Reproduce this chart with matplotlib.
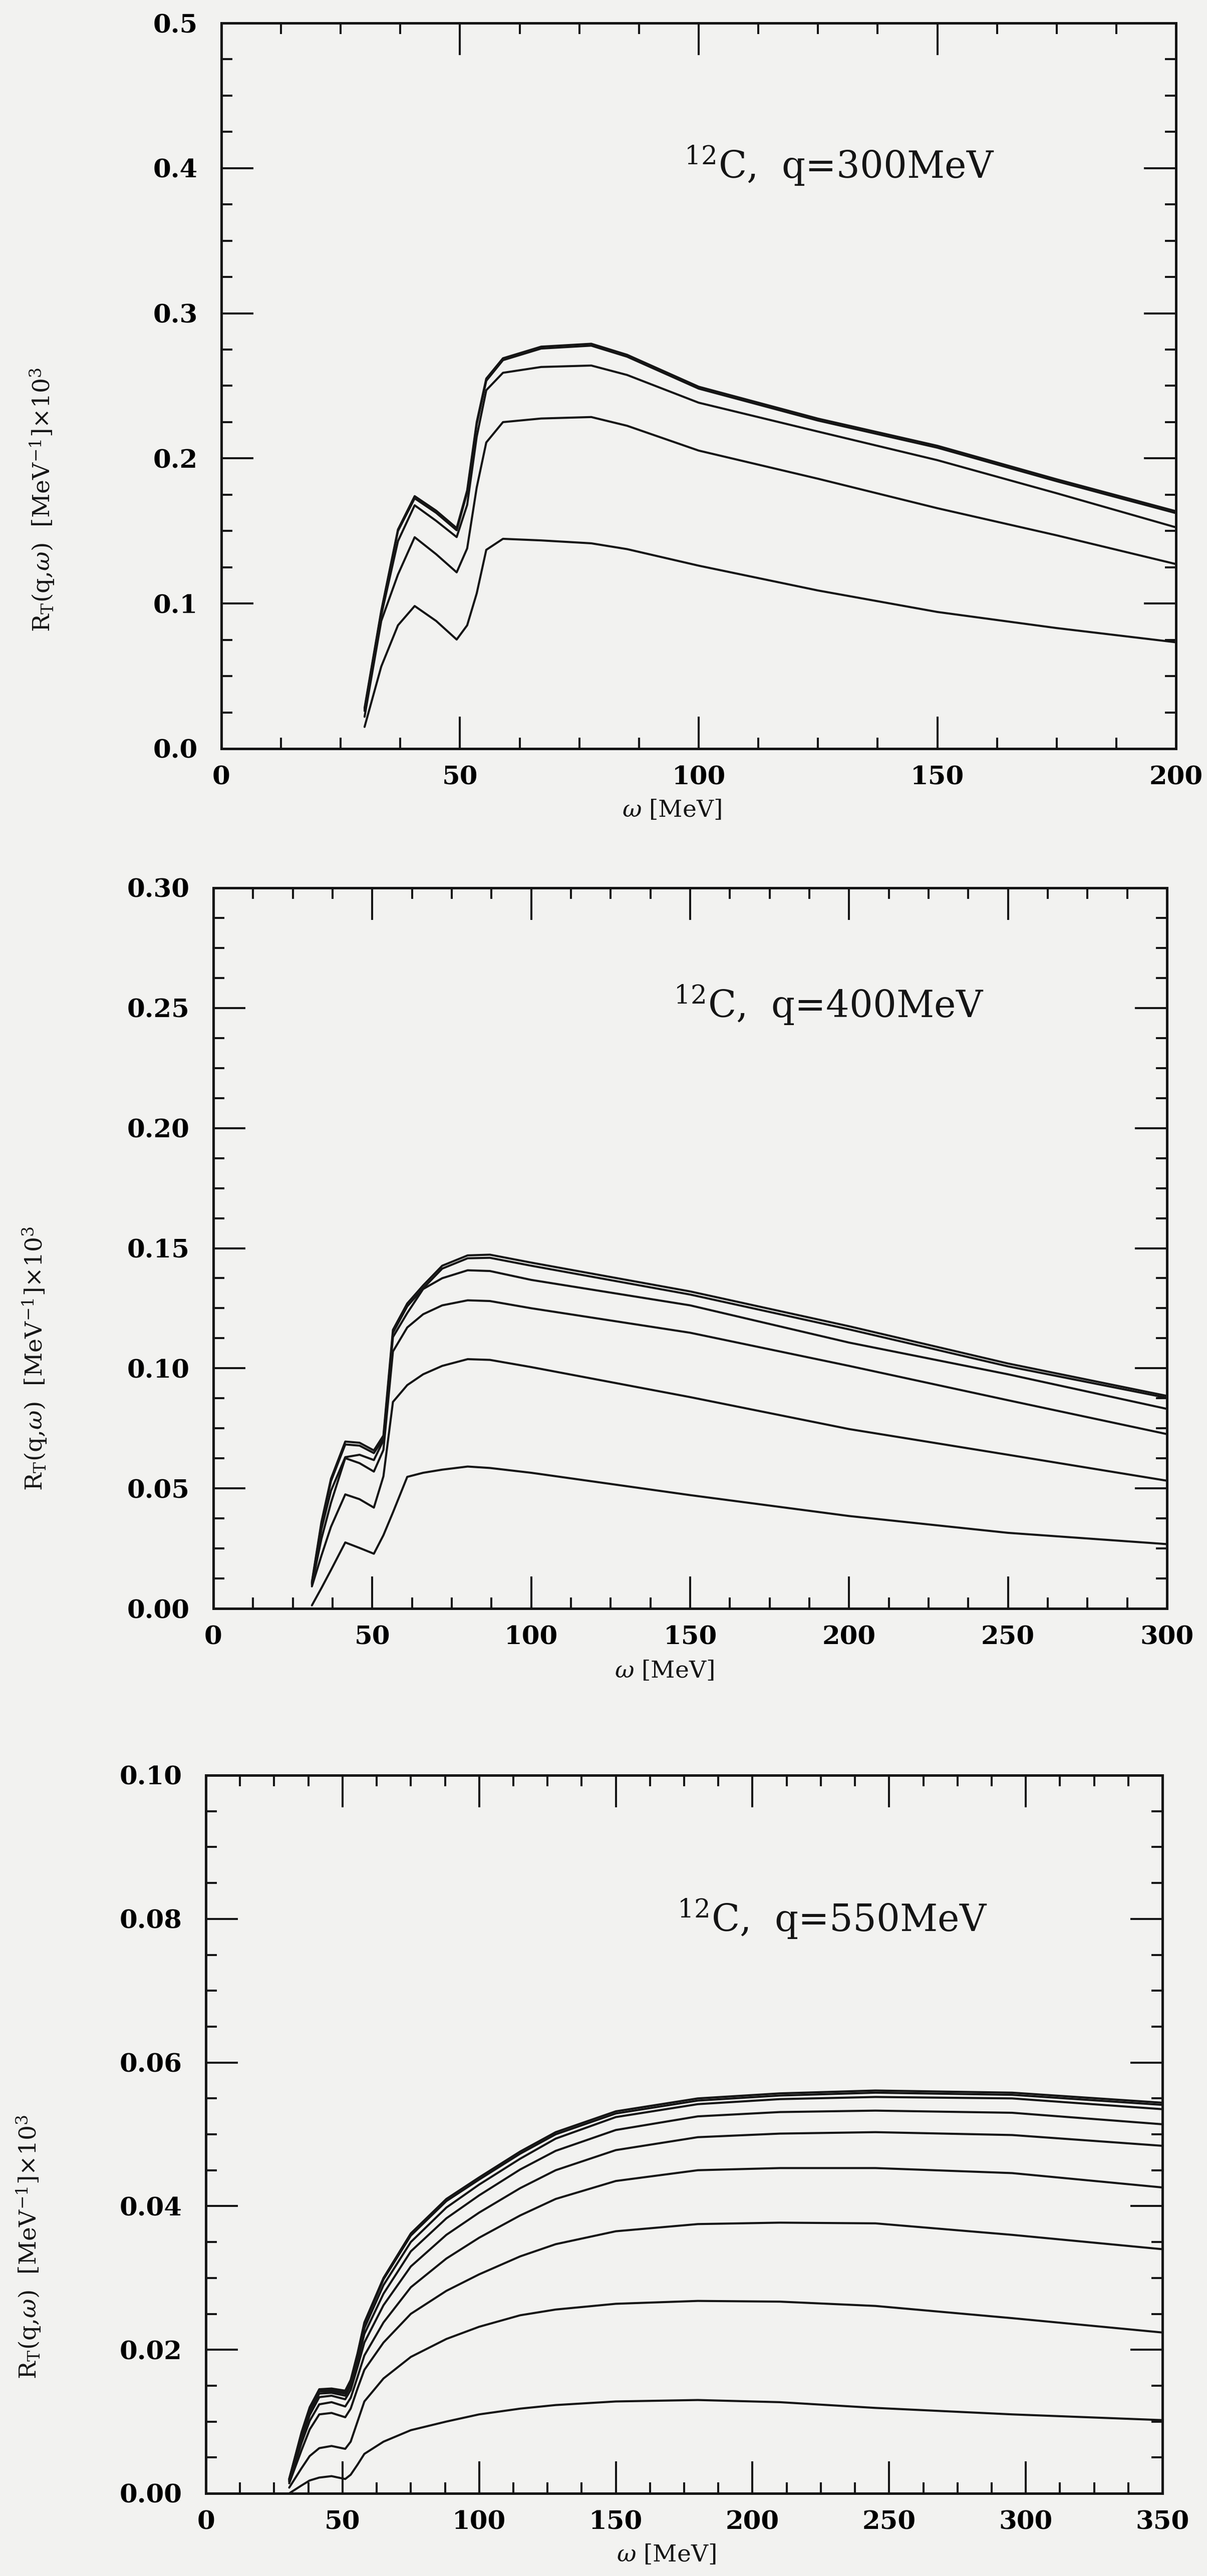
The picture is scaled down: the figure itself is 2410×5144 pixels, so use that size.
import matplotlib
matplotlib.use('Agg')
import matplotlib.pyplot as plt

plt.rcParams['font.family'] = 'DejaVu Serif'
plt.rcParams['mathtext.fontset'] = 'dejavuserif'

W, H = 2410, 5144
PAPER = '#f2f2f0'
INK = '#151515'

# transverse response of 12C, one curve per model, q = 300 MeV
q300_w = [30, 33.5, 37, 40.5, 45, 49.3, 51.5, 53.5, 55.5, 59, 67, 77.5, 85, 100, 125, 150, 175, 200]
q300_curves = [
    [0.028, 0.095, 0.151, 0.174, 0.164, 0.152, 0.178, 0.225, 0.255, 0.269, 0.277, 0.279, 0.2714, 0.2494, 0.2274, 0.2087, 0.1856, 0.1636],
    [0.027, 0.094, 0.150, 0.1725, 0.1625, 0.1505, 0.1765, 0.2235, 0.2535, 0.2677, 0.2757, 0.2777, 0.2701, 0.2481, 0.2261, 0.2074, 0.1843, 0.1623],
    [0.026, 0.092, 0.143, 0.1677, 0.157, 0.1458, 0.168, 0.215, 0.247, 0.259, 0.263, 0.2640, 0.2575, 0.2384, 0.2185, 0.1988, 0.1760, 0.1525],
    [0.022, 0.088, 0.120, 0.1457, 0.134, 0.1215, 0.138, 0.180, 0.211, 0.225, 0.2275, 0.2285, 0.2225, 0.2054, 0.1860, 0.1657, 0.1470, 0.1272],
    [0.015, 0.0566, 0.085, 0.0983, 0.088, 0.0752, 0.085, 0.107, 0.137, 0.1446, 0.1435, 0.1415, 0.1375, 0.1261, 0.1090, 0.0942, 0.0831, 0.0733],
]

# q = 400 MeV
q400_w = [31, 34, 37, 41.5, 46, 50.5, 53.5, 56.5, 61, 66, 72, 80, 87, 100, 150, 200, 250, 300]
q400_curves = [
    [0.011, 0.036, 0.054, 0.0695, 0.0690, 0.0658, 0.072, 0.116, 0.127, 0.1345, 0.1427, 0.1470, 0.1473, 0.1440, 0.1320, 0.1175, 0.1020, 0.0885],
    [0.0106, 0.0352, 0.0530, 0.0683, 0.0678, 0.0647, 0.0708, 0.1148, 0.1258, 0.1333, 0.1415, 0.1458, 0.1460, 0.1427, 0.1307, 0.1162, 0.1008, 0.0877],
    [0.0103, 0.033, 0.049, 0.063, 0.064, 0.0618, 0.070, 0.113, 0.123, 0.1330, 0.1375, 0.1408, 0.1405, 0.1368, 0.1262, 0.1107, 0.0975, 0.0831],
    [0.0099, 0.029, 0.044, 0.0626, 0.0605, 0.0570, 0.066, 0.107, 0.117, 0.1225, 0.1262, 0.1283, 0.1280, 0.1250, 0.1148, 0.1010, 0.0867, 0.0726],
    [0.0092, 0.022, 0.034, 0.0475, 0.0455, 0.0420, 0.055, 0.086, 0.093, 0.0975, 0.1010, 0.1038, 0.1035, 0.1005, 0.0880, 0.0747, 0.0640, 0.0532],
    [0.0013, 0.0085, 0.0160, 0.0275, 0.0252, 0.0228, 0.0305, 0.040, 0.0548, 0.0565, 0.0578, 0.0591, 0.0585, 0.0565, 0.0472, 0.0385, 0.0315, 0.0268],
]

# q = 550 MeV
q550_w = [30.5, 35, 38, 41.5, 46, 51, 53, 55.5, 58, 65, 75, 88, 100, 115, 128, 150, 180, 210, 245, 295, 350]
q550_curves = [
    [0.0020, 0.0085, 0.0120, 0.0145, 0.0146, 0.0143, 0.0158, 0.0195, 0.0238, 0.0300, 0.0362, 0.0410, 0.0440, 0.0476, 0.0503, 0.0532, 0.0550, 0.0557, 0.0561, 0.0558, 0.0544],
    [0.0020, 0.0083, 0.0118, 0.0143, 0.0144, 0.0141, 0.0156, 0.0193, 0.0236, 0.0298, 0.0359, 0.0407, 0.0437, 0.0473, 0.0500, 0.0529, 0.0547, 0.0554, 0.0558, 0.0555, 0.0541],
    [0.0019, 0.0082, 0.0117, 0.0142, 0.0142, 0.0139, 0.0154, 0.0190, 0.0230, 0.0290, 0.0350, 0.0398, 0.0430, 0.0466, 0.0494, 0.0524, 0.0542, 0.0549, 0.0552, 0.0550, 0.0535],
    [0.0018, 0.0080, 0.0114, 0.0139, 0.0140, 0.0136, 0.0150, 0.0184, 0.0222, 0.0278, 0.0337, 0.0383, 0.0415, 0.0451, 0.0477, 0.0506, 0.0525, 0.0531, 0.0533, 0.0530, 0.0514],
    [0.0017, 0.0076, 0.0109, 0.0134, 0.0136, 0.0131, 0.0144, 0.0176, 0.0210, 0.0262, 0.0316, 0.0360, 0.0391, 0.0425, 0.0450, 0.0478, 0.0496, 0.0501, 0.0503, 0.0499, 0.0484],
    [0.0016, 0.0070, 0.0101, 0.0124, 0.0127, 0.0121, 0.0133, 0.0162, 0.0192, 0.0238, 0.0287, 0.0327, 0.0356, 0.0387, 0.0410, 0.0435, 0.0450, 0.0453, 0.0453, 0.0446, 0.0426],
    [0.0014, 0.0060, 0.0089, 0.0110, 0.0112, 0.0106, 0.0118, 0.0146, 0.0172, 0.0210, 0.0250, 0.0282, 0.0305, 0.0330, 0.0347, 0.0365, 0.0375, 0.0377, 0.0376, 0.0360, 0.0340],
    [0.0008, 0.0035, 0.0052, 0.0063, 0.0066, 0.0062, 0.0072, 0.0100, 0.0128, 0.0160, 0.0190, 0.0215, 0.0232, 0.0248, 0.0256, 0.0264, 0.0268, 0.0267, 0.0261, 0.0244, 0.0224],
    [0.0000, 0.0011, 0.0018, 0.0022, 0.0024, 0.0020, 0.0026, 0.0040, 0.0055, 0.0072, 0.0088, 0.0100, 0.0110, 0.0118, 0.0123, 0.0128, 0.0130, 0.0127, 0.0119, 0.0110, 0.0102],
]

q_values = [300, 400, 550]
x_limits = [200, 300, 350]
y_limits = [0.5, 0.30, 0.10]
y_major = [0.1, 0.05, 0.02]
y_minor = [0.025, 0.0125, 0.005]
x_tick_labels = [
    ['0', '50', '100', '150', '200'],
    ['0', '50', '100', '150', '200', '250', '300'],
    ['0', '50', '100', '150', '200', '250', '300', '350'],
]
y_tick_labels = [
    ['0.0', '0.1', '0.2', '0.3', '0.4', '0.5'],
    ['0.00', '0.05', '0.10', '0.15', '0.20', '0.25', '0.30'],
    ['0.00', '0.02', '0.04', '0.06', '0.08', '0.10'],
]

# axes boxes in pixels: left, right, top, bottom
boxes = [(442, 2348, 46, 1495), (426, 2330, 1773, 3212), (411, 2321, 3545, 4979)]
# where the text pieces sit (pixel centres / left edge of the annotation)
ylabel_pos = [(85, 998), (70, 2713), (58, 4487)]
xlabel_pos = [(1341, 1618), (1326, 3337), (1330, 5102)]
note_pos = [(1366, 331), (1345, 2007), (1352, 3832)]


def fx(px):
    return px / W


def fy(py):
    return 1 - py / H


fig = plt.figure(figsize=(W / 100, H / 100), dpi=100, facecolor=PAPER)

panels = [(q300_w, q300_curves), (q400_w, q400_curves), (q550_w, q550_curves)]

for i, (w, curves) in enumerate(panels):
    left, right, top, bottom = boxes[i]
    ax = fig.add_axes([fx(left), fy(bottom), (right - left) / W, (bottom - top) / H])
    ax.set_facecolor(PAPER)

    for resp in curves:
        ax.plot(w, resp, color=INK, lw=3.0, solid_joinstyle='round', solid_capstyle='round')

    ax.set_xlim(0, x_limits[i])
    ax.set_ylim(0, y_limits[i])

    xt = [50 * k for k in range(len(x_tick_labels[i]))]
    yt = [y_major[i] * k for k in range(len(y_tick_labels[i]))]
    ax.set_xticks(xt)
    ax.set_xticklabels(x_tick_labels[i], fontweight='bold', fontsize=37)
    ax.set_yticks(yt)
    ax.set_yticklabels(y_tick_labels[i], fontweight='bold', fontsize=37)
    nx = int(round(x_limits[i] / 12.5))
    ny = int(round(y_limits[i] / y_minor[i]))
    ax.set_xticks([12.5 * k for k in range(nx + 1)], minor=True)
    ax.set_yticks([y_minor[i] * k for k in range(ny + 1)], minor=True)

    ax.tick_params(which='both', direction='in', top=True, right=True, color=INK)
    ax.tick_params(which='major', length=46, width=2.9)
    ax.tick_params(which='minor', length=16, width=2.9)
    ax.tick_params(axis='x', pad=24)
    ax.tick_params(axis='y', pad=34)
    for sp in ax.spines.values():
        sp.set_linewidth(3.6)
        sp.set_color(INK)

    nx_px, ny_px = note_pos[i]
    ax.text((nx_px - left) / (right - left), (bottom - ny_px) / (bottom - top),
            r'$^{12}$C,  q=%dMeV' % q_values[i], transform=ax.transAxes,
            fontsize=53, ha='left', va='center', color=INK)

    lx, ly = ylabel_pos[i]
    fig.text(fx(lx), fy(ly), r'R$_\mathrm{T}$(q,$\omega$)  [MeV$^{-1}$]$\times$10$^3$',
             rotation=90, ha='center', va='center', fontsize=34, color=INK)
    bx, by = xlabel_pos[i]
    fig.text(fx(bx), fy(by), r'$\omega$ [MeV]', ha='center', va='center',
             fontsize=34, color=INK)

fig.savefig('out.png', dpi=100, facecolor=PAPER)
